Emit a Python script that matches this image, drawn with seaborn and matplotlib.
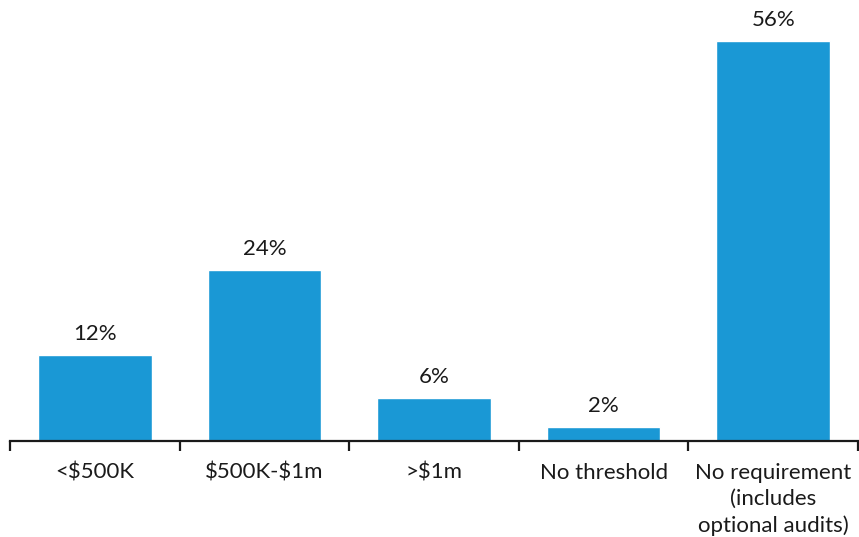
import matplotlib
matplotlib.use("Agg")
import matplotlib.pyplot as plt
import seaborn as sns
import pandas as pd
import numpy as np
from matplotlib.ticker import FixedLocator

categories = ["<$500K", "$500K-$1m", ">$1m", "No threshold", "No requirement\n(includes\noptional audits)"]
values = [12, 24, 6, 2, 56]
value_labels = ["12%", "24%", "6%", "2%", "56%"]

sns.set_style("white")
plt.rcParams['font.family'] = ['Lato', 'DejaVu Sans']
plt.rcParams['text.parse_math'] = False

df = pd.DataFrame({"category": categories, "value": values})

fig = plt.figure(figsize=(8.59, 5.37), dpi=100)
ax = fig.add_axes([10/859, 96/537, 848/859, 441/537])
sns.barplot(data=df, x="category", y="value", color="#1A98D5", saturation=1, width=0.67, ax=ax)

ax.set_xlim(-0.5, len(categories) - 0.5)
ax.set_ylim(0, 61.8)
for i, (v, lab) in enumerate(zip(values, value_labels)):
    ax.annotate(lab, (i, v), xytext=(0, 8), textcoords="offset points", ha="center", va="bottom", fontsize=16, color="#1a1a1a")

for s in ["top", "right", "left"]:
    ax.spines[s].set_visible(False)
ax.spines["bottom"].set_color("#1a1a1a")
ax.spines["bottom"].set_linewidth(1.6)
ax.set_yticks([])
ax.set_xlabel("")
ax.set_ylabel("")
ax.xaxis.set_minor_locator(FixedLocator(np.arange(-0.5, len(categories), 1.0)))
ax.tick_params(axis="x", which="major", length=0, pad=15.5, labelsize=16, labelcolor="#1a1a1a")
ax.tick_params(axis="x", which="minor", length=7, width=1.6, color="#1a1a1a", direction="out", bottom=True)
for t in ax.get_xticklabels():
    t.set_linespacing(1.38)

fig.savefig("out.png", dpi=100)
